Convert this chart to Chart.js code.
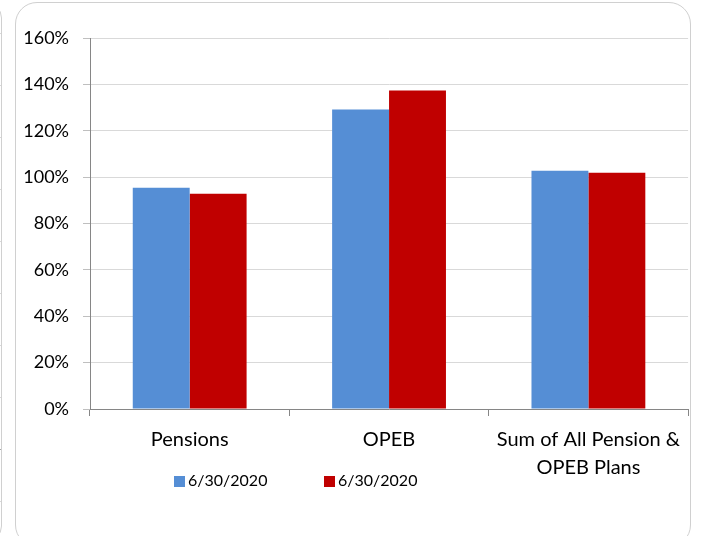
<!DOCTYPE html>
<html lang="en">
<head>
    <meta charset="UTF-8">
    <title>Funded Ratio</title>
    <script src="https://cdn.jsdelivr.net/npm/chart.js"></script>
    <style>
        body { margin: 0; background: #fff; width: 702px; height: 536px; overflow: hidden; position: relative; }
        .prev {
            position: absolute; left: -30px; top: 2px; width: 32px; height: 540px;
            border: 1px solid #d0d0d0; border-radius: 20px; box-sizing: border-box;
            background-image: linear-gradient(to bottom, transparent 446px, #a6a6a6 446px, #a6a6a6 447px, transparent 447px),
                repeating-linear-gradient(to bottom, transparent 0, transparent 30px, #d9d9d9 30px, #d9d9d9 31px, transparent 31px, transparent 52px);
        }
        .frame {
            position: absolute; left: 15px; top: 2px; width: 676px; height: 545px;
            border: 1px solid #d0d0d0; border-radius: 22px; box-sizing: border-box;
        }
        #wrap { position: absolute; left: 15px; top: 2px; width: 675px; height: 534px; }
    </style>
</head>
<body>
    <div class="prev"></div>
    <div class="frame"></div>
    <div id="wrap"><canvas id="fundChart"></canvas></div>

    <script>
        const categories = ['Pensions', 'OPEB', ['Sum of All Pension &', 'OPEB Plans']];
        const seriesLabels = ['6/30/2020', '6/30/2020'];
        const seriesA = [95.4, 129.2, 102.8];
        const seriesB = [92.8, 137.4, 101.9];
        const seriesColors = ['#558ED5', '#C00000'];
        const yTicks = [0, 20, 40, 60, 80, 100, 120, 140, 160];

        const fontFamily = 'Lato, "Open Sans", sans-serif';

        // legend drawn by hand so it sits where the original one sits
        const legendPlugin = {
            id: 'manualLegend',
            afterDraw(chart) {
                const ctx = chart.ctx;
                const left = chart.chartArea.left;
                const offsets = [84, 234];
                ctx.save();
                ctx.font = '16px ' + fontFamily;
                ctx.textBaseline = 'middle';
                ctx.textAlign = 'left';
                chart.data.datasets.forEach((ds, i) => {
                    const x = left + offsets[i];
                    ctx.fillStyle = ds.backgroundColor;
                    ctx.fillRect(x, 474, 11, 11);
                    ctx.fillStyle = '#000';
                    ctx.fillText(ds.label, x + 14, 479);
                });
                ctx.restore();
            }
        };

        new Chart(document.getElementById('fundChart'), {
            type: 'bar',
            data: {
                labels: categories,
                datasets: [
                    { label: seriesLabels[0], data: seriesA, backgroundColor: seriesColors[0] },
                    { label: seriesLabels[1], data: seriesB, backgroundColor: seriesColors[1] }
                ]
            },
            options: {
                responsive: true,
                maintainAspectRatio: false,
                animation: false,
                categoryPercentage: 0.571,
                barPercentage: 1,
                layout: { padding: { top: 36, right: 0, left: 0, bottom: 0 } },
                plugins: {
                    legend: { display: false },
                    tooltip: { enabled: false }
                },
                scales: {
                    x: {
                        grid: {
                            display: true, drawOnChartArea: false, offset: true,
                            tickLength: 7, color: '#868686', tickColor: '#868686'
                        },
                        border: { color: '#868686' },
                        ticks: {
                            color: '#000', padding: 10,
                            font: { family: fontFamily, size: 20, lineHeight: '28px' },
                            maxRotation: 0, autoSkip: false
                        },
                        afterFit(scale) { scale.height = 127; }
                    },
                    y: {
                        min: 0, max: 160,
                        afterBuildTicks(scale) { scale.ticks = yTicks.map(v => ({ value: v })); },
                        grid: { color: '#d9d9d9', tickColor: '#bfbfbf', tickLength: 7 },
                        border: { color: '#868686' },
                        ticks: {
                            color: '#000', padding: 14,
                            font: { family: fontFamily, size: 18 },
                            callback: v => v + '%'
                        },
                        afterFit(scale) { scale.width = 75; }
                    }
                }
            },
            plugins: [legendPlugin]
        });
    </script>
</body>
</html>
